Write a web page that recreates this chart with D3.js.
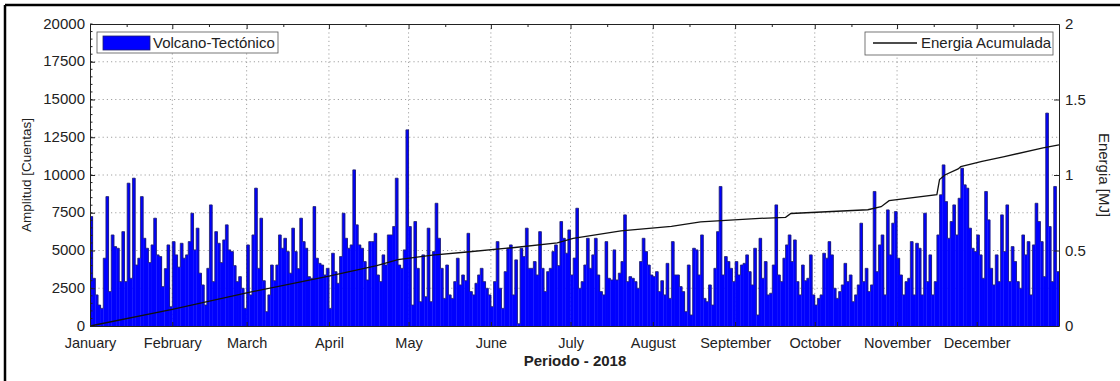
<!DOCTYPE html>
<html><head><meta charset="utf-8">
<script src="https://cdn.jsdelivr.net/npm/d3@7"></script>
<style>
body{margin:0;background:#fff}
svg{display:block}
text{font-family:"Liberation Sans",Arial,Helvetica,sans-serif}
</style>
</head><body>
<svg id="c" width="1120" height="381"></svg>
<script>
// Daily amplitude (Cuentas), 1 Jan 2018 .. 31 Dec 2018
const amplitude = [
7250,3160,2060,1390,1170,4490,8570,2280,6030,5260,
5150,2940,6250,2940,9460,3160,9790,4040,4490,8570,
5810,5150,4200,5370,7140,4710,4600,2610,3800,5370,
1280,5590,4710,3900,5480,4490,4710,5590,7470,5040,
6480,3500,2720,1390,3820,8020,2940,6250,5480,4200,
5700,6700,5040,4930,4000,2940,3270,2500,1170,5370,
2060,6030,9130,3820,7140,3000,950,2060,4040,3000,
4040,6030,5150,
5810,4930,3500,6480,4930,3800,7140,5590,5150,3270,
3160,7910,4490,4150,4040,3380,3820,1170,4820,3600,
2830,4600,7470,5810,5150,5370,10340,6700,5370,5150,
4270,3050,5590,5590,6140,3380,2940,4710,4040,6030,
6030,6590,9790,4040,3820,5040,12990,6590,1390,6920,
3820,1610,4710,1940,6480,1610,4930,8130,5810,3820,
1830,4040,2060,1830,2940,4490,2720,3380,3000,6140,
2280,2060,2830,
3380,3820,2940,2500,2060,1280,2940,5590,2500,1170,
3600,5150,5370,2060,4380,150,5150,4600,6480,3820,
3820,4270,3380,6250,3820,2280,3600,3820,4930,5370,
4000,6920,5810,4820,6360,3380,4500,7800,2500,2940,
4040,5810,3820,4710,5810,3380,2280,2060,5590,3160,
3050,5040,3050,3500,4270,7360,2940,3270,3160,2940,
2500,4270,5810,4930,4040,3380,3270,3600,2280,3000,
2060,4150,1830,
5590,3380,3380,2610,2280,950,4040,730,5150,5040,
3380,6030,1830,1610,2720,1390,3820,6250,9240,3380,
4600,4270,3820,2940,4270,3380,4040,4150,4710,3600,
2720,5150,730,5810,3160,4270,2060,2170,4040,8020,
3380,2940,4490,5370,6030,4270,5700,2940,2060,4040,
3000,3160,4710,2060,1390,1830,2060,4820,4490,5590,
4710,2500,1830,2280,2720,4150,2940,3380,1610,2060,
2720,6810,2940,
3820,2280,2720,8910,3600,5370,6030,2060,7690,4710,
6810,7580,4490,3380,2060,2940,3160,5590,2060,5480,
5150,2060,7470,2940,4710,2060,2940,6030,8690,10670,
8240,5810,6920,8020,6030,8460,10450,9350,9130,6480,
5150,4930,6030,4710,3160,8910,7030,3820,2720,4710,
2940,7360,4930,8020,2940,5260,4270,2940,2500,6030,
4710,5590,2060,5370,8130,6920,5590,3270,14100,6590,
2940,9240,3600
];
// Accumulated energy (MJ) read at day-of-year positions
const energyDay   = [0,31,59,90,108,116,129,142,160,176,182,200,219,230,249,262,264,293,298,301,319,320,322,327,328,336,344,359,365];
const energyValue = [0,0.11,0.22,0.33,0.40,0.44,0.47,0.49,0.52,0.55,0.58,0.63,0.66,0.69,0.71,0.72,0.745,0.77,0.79,0.83,0.87,0.97,1.00,1.04,1.055,1.09,1.12,1.18,1.20];
const monthLabels = ["January","February","March","April","May","June","July","August","September","October","November","December"];
const yTicks  = [0,2500,5000,7500,10000,12500,15000,17500,20000];
const y2Ticks = [0,0.5,1,1.5,2];

const svg = d3.select("#c");
const m = {left:90, right:1059, top:24, bottom:326};
const start = new Date(2018,0,1), end = new Date(2019,0,1);
const dayDate = i => d3.timeDay.offset(start, i);
const x  = d3.scaleTime().domain([start,end]).range([m.left,m.right]);
const y  = d3.scaleLinear().domain([0,20000]).range([m.bottom,m.top]);
const y2 = d3.scaleLinear().domain([0,2]).range([m.bottom,m.top]);
const months = d3.timeMonth.range(start,end);

// outer frame (top/left edges visible)
svg.append("line").attr("x1",5).attr("y1",5).attr("x2",1120).attr("y2",5).attr("stroke","#000").attr("stroke-width",2.5);
svg.append("line").attr("x1",5).attr("y1",5).attr("x2",5).attr("y2",381).attr("stroke","#000").attr("stroke-width",2.5);

// grid
const grid = svg.append("g").attr("stroke","#8a8a8a").attr("stroke-width",0.8).attr("stroke-dasharray","1.2,3");
grid.selectAll("line.h").data(yTicks.slice(1,-1)).join("line")
  .attr("x1",m.left).attr("x2",m.right).attr("y1",d=>y(d)).attr("y2",d=>y(d));
grid.selectAll("line.v").data(months.slice(1)).join("line")
  .attr("x1",d=>x(d)).attr("x2",d=>x(d)).attr("y1",m.top).attr("y2",m.bottom);

// bars
svg.append("g").selectAll("rect").data(amplitude).join("rect")
  .attr("x",(d,i)=>x(dayDate(i)))
  .attr("width",(d,i)=>x(dayDate(i+1))-x(dayDate(i))+0.3)
  .attr("y",d=>y(d))
  .attr("height",d=>y(0)-y(d))
  .attr("fill","#0000ff");

// bar edge outline
const stepPts = amplitude.map((d,i)=>[x(dayDate(i)), y(d)]);
stepPts.push([x(dayDate(amplitude.length)), y(amplitude[amplitude.length-1])]);
svg.append("path").attr("d", d3.line().curve(d3.curveStepAfter)(stepPts))
  .attr("fill","none").attr("stroke","#22226a").attr("stroke-width",0.8);

// energy line
svg.append("path")
  .attr("d", d3.line().x((d,i)=>x(dayDate(energyDay[i]))).y(d=>y2(d))(energyValue))
  .attr("fill","none").attr("stroke","#111").attr("stroke-width",1.3);

// axes
const fmt = d3.format("~g");
const axL = svg.append("g").attr("transform",`translate(${m.left},0)`)
  .call(d3.axisLeft(y).tickValues(yTicks).tickFormat(d3.format("d")).tickSize(-5).tickSizeOuter(0).tickPadding(5));
const axR = svg.append("g").attr("transform",`translate(${m.right},0)`)
  .call(d3.axisRight(y2).tickValues(y2Ticks).tickFormat(fmt).tickSize(-5).tickSizeOuter(0).tickPadding(6));
const axB = svg.append("g").attr("transform",`translate(0,${m.bottom})`)
  .call(d3.axisBottom(x).tickValues(months).tickFormat((d,i)=>monthLabels[i]).tickSize(-4).tickSizeOuter(0).tickPadding(12));
const axT = svg.append("g").attr("transform",`translate(0,${m.top})`)
  .call(d3.axisTop(x).tickValues(months).tickFormat("").tickSize(-5).tickSizeOuter(0));
[axL,axR,axB,axT].forEach(a=>{
  a.selectAll("text").attr("font-size",15).attr("fill","#222").attr("font-family","Liberation Sans, Arial, sans-serif");
  a.select(".domain").attr("stroke","#222").attr("stroke-width",1);
  a.selectAll(".tick line").attr("stroke","#222");
});
axB.selectAll("text").attr("font-size",14.5);
axL.selectAll("text").attr("dy","0.28em");
// minor ticks
const minorY = d3.range(0,20001,500);
svg.append("g").selectAll("line").data(minorY).join("line")
  .attr("x1",m.left).attr("x2",m.left+2.5).attr("y1",d=>y(d)).attr("y2",d=>y(d)).attr("stroke","#222");
const minorX = months.map(d=>d3.timeDay.offset(d,14));
svg.append("g").selectAll("line").data(minorX).join("line")
  .attr("x1",d=>x(d)).attr("x2",d=>x(d)).attr("y1",m.top).attr("y2",m.top+3).attr("stroke","#222");

// titles
svg.append("text").attr("transform",`translate(31,175) rotate(-90)`).attr("text-anchor","middle")
  .attr("font-size",13.5).attr("fill","#222").text("Amplitud [Cuentas]");
svg.append("text").attr("transform",`translate(1099,175) rotate(90)`).attr("text-anchor","middle")
  .attr("font-size",15).attr("fill","#222").text("Energia [MJ]");
svg.append("text").attr("x",575).attr("y",366).attr("text-anchor","middle")
  .attr("font-size",15).attr("font-weight","bold").attr("fill","#222").text("Periodo - 2018");

// legends
const lg1 = svg.append("g");
lg1.append("rect").attr("x",97).attr("y",32).attr("width",181).attr("height",21).attr("fill","#fff").attr("stroke","#555").attr("stroke-width",0.8);
lg1.append("rect").attr("x",103).attr("y",36).attr("width",47).attr("height",14).attr("fill","#0000ff").attr("stroke","#22226a").attr("stroke-width",0.8);
lg1.append("text").attr("x",153).attr("y",48).attr("font-size",15).attr("fill","#222").text("Volcano-Tectónico");
const lg2 = svg.append("g");
lg2.append("rect").attr("x",865).attr("y",32).attr("width",188).attr("height",23).attr("fill","#fff").attr("stroke","#555").attr("stroke-width",0.8);
lg2.append("line").attr("x1",873).attr("x2",917).attr("y1",43).attr("y2",43).attr("stroke","#111").attr("stroke-width",1.3);
lg2.append("text").attr("x",921).attr("y",48).attr("font-size",15).attr("fill","#222").text("Energia Acumulada");
</script>
</body></html>
